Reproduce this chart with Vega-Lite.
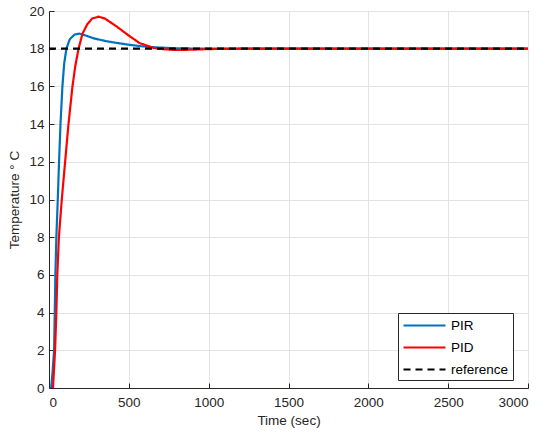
{
  "$schema": "https://vega.github.io/schema/vega-lite/v6.json",
  "width": 479,
  "height": 377,
  "autosize": {"type": "none"},
  "padding": {"left": 49, "top": 11, "right": 22, "bottom": 51},
  "background": "white",
  "config": {
    "font": "Liberation Sans",
    "view": {"stroke": "#262626", "strokeWidth": 1},
    "axis": {
      "domainColor": "#262626",
      "tickColor": "#262626",
      "gridColor": "#e3e3e3",
      "gridWidth": 1,
      "labelColor": "#262626",
      "titleColor": "#262626",
      "labelFontSize": 13.5,
      "titleFontSize": 13.5,
      "titleFontWeight": "normal",
      "labelFont": "Liberation Sans",
      "titleFont": "Liberation Sans"
    }
  },
  "data": {
    "values": [
      {"t": 0, "v": 0, "s": "PIR"},
      {"t": 13, "v": 0, "s": "PIR"},
      {"t": 22, "v": 0.8, "s": "PIR"},
      {"t": 32, "v": 2, "s": "PIR"},
      {"t": 36, "v": 4, "s": "PIR"},
      {"t": 40, "v": 6, "s": "PIR"},
      {"t": 46, "v": 8, "s": "PIR"},
      {"t": 55, "v": 10, "s": "PIR"},
      {"t": 63, "v": 12, "s": "PIR"},
      {"t": 72, "v": 14, "s": "PIR"},
      {"t": 84, "v": 16, "s": "PIR"},
      {"t": 95, "v": 17.2, "s": "PIR"},
      {"t": 109, "v": 18, "s": "PIR"},
      {"t": 130, "v": 18.5, "s": "PIR"},
      {"t": 160, "v": 18.75, "s": "PIR"},
      {"t": 190, "v": 18.8, "s": "PIR"},
      {"t": 230, "v": 18.7, "s": "PIR"},
      {"t": 280, "v": 18.55, "s": "PIR"},
      {"t": 357, "v": 18.4, "s": "PIR"},
      {"t": 430, "v": 18.3, "s": "PIR"},
      {"t": 500, "v": 18.21, "s": "PIR"},
      {"t": 580, "v": 18.13, "s": "PIR"},
      {"t": 672, "v": 18.07, "s": "PIR"},
      {"t": 800, "v": 18.02, "s": "PIR"},
      {"t": 1000, "v": 18.0, "s": "PIR"},
      {"t": 3000, "v": 18.0, "s": "PIR"},
      {"t": 0, "v": 0, "s": "PID"},
      {"t": 25, "v": 0, "s": "PID"},
      {"t": 38, "v": 2, "s": "PID"},
      {"t": 46, "v": 4, "s": "PID"},
      {"t": 52, "v": 6, "s": "PID"},
      {"t": 62, "v": 8, "s": "PID"},
      {"t": 80, "v": 10, "s": "PID"},
      {"t": 101, "v": 12, "s": "PID"},
      {"t": 122, "v": 14, "s": "PID"},
      {"t": 147, "v": 16, "s": "PID"},
      {"t": 165, "v": 17.1, "s": "PID"},
      {"t": 185, "v": 18, "s": "PID"},
      {"t": 210, "v": 18.8, "s": "PID"},
      {"t": 240, "v": 19.3, "s": "PID"},
      {"t": 270, "v": 19.6, "s": "PID"},
      {"t": 311, "v": 19.7, "s": "PID"},
      {"t": 350, "v": 19.6, "s": "PID"},
      {"t": 420, "v": 19.2, "s": "PID"},
      {"t": 504, "v": 18.67, "s": "PID"},
      {"t": 567, "v": 18.3, "s": "PID"},
      {"t": 651, "v": 18.05, "s": "PID"},
      {"t": 720, "v": 17.97, "s": "PID"},
      {"t": 800, "v": 17.93, "s": "PID"},
      {"t": 900, "v": 17.95, "s": "PID"},
      {"t": 1000, "v": 17.98, "s": "PID"},
      {"t": 1200, "v": 18.0, "s": "PID"},
      {"t": 3000, "v": 18.0, "s": "PID"},
      {"t": 0, "v": 18, "s": "reference"},
      {"t": 3000, "v": 18, "s": "reference"}
    ]
  },
  "mark": {"type": "line", "strokeWidth": 2.2, "clip": true},
  "encoding": {
    "x": {
      "field": "t", "type": "quantitative",
      "scale": {"domain": [0, 3000], "nice": false},
      "axis": {"title": "Time (sec)", "format": "d", "values": [0, 500, 1000, 1500, 2000, 2500, 3000], "tickSize": -5, "labelPadding": 12, "titlePadding": 5}
    },
    "y": {
      "field": "v", "type": "quantitative",
      "scale": {"domain": [0, 20], "nice": false},
      "axis": {"title": "Temperature ° C", "format": "d", "values": [0, 2, 4, 6, 8, 10, 12, 14, 16, 18, 20], "tickSize": -5, "labelPadding": 10, "titlePadding": 7}
    },
    "color": {
      "field": "s", "type": "nominal",
      "scale": {"domain": ["PIR", "PID", "reference"], "range": ["#0072BD", "#FF0000", "#000000"]},
      "legend": {
        "title": null,
        "orient": "none",
        "legendX": 349,
        "legendY": 302,
        "symbolType": "M-1,0H5",
        "symbolSize": 196,
        "symbolStrokeWidth": 2.2,
        "labelFontSize": 13.5,
        "labelColor": "#000000",
        "labelFont": "Liberation Sans",
        "strokeColor": "#262626",
        "fillColor": "white",
        "padding": 4,
        "rowPadding": 7,
        "labelOffset": 32
      }
    },
    "strokeDash": {
      "field": "s", "type": "nominal",
      "scale": {"domain": ["PIR", "PID", "reference"], "range": [[1, 0], [1, 0], [7, 5]]},
      "legend": null
    },
    "order": {"field": "t", "type": "quantitative"}
  }
}
